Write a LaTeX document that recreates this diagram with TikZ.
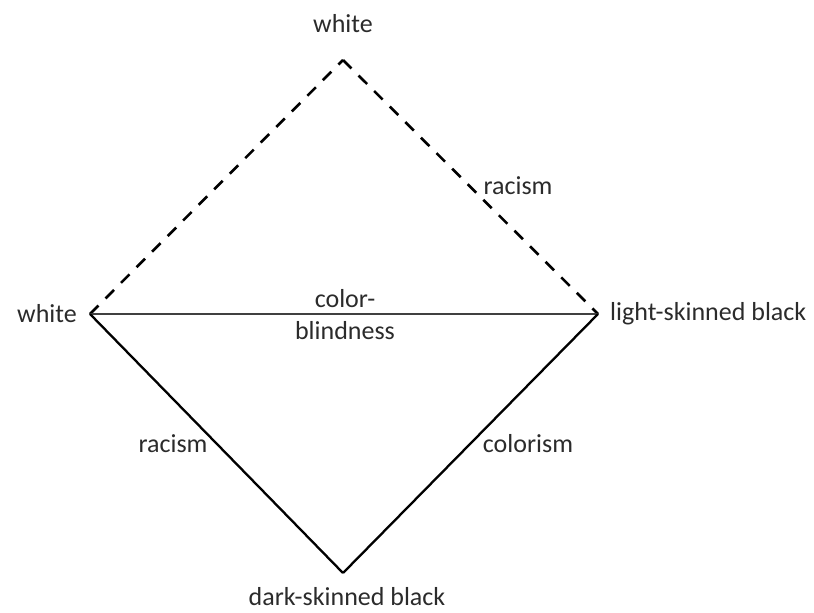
\documentclass[tikz,border=0pt]{standalone}
\usepackage{fontspec}
\setmainfont{Carlito}
\usetikzlibrary{positioning}
\definecolor{txtgray}{HTML}{2B2B2B}
\tikzset{
  vlabel/.style={font=\fontsize{26}{30}\selectfont, text=txtgray, inner sep=1pt},
  elabel/.style={font=\fontsize{26}{30}\selectfont, text=txtgray, inner sep=1pt, align=center},
  solidedge/.style={line width=2.3pt, black},
  dashedge/.style={line width=2.6pt, black, dash pattern=on 12pt off 10pt},
}
\begin{document}
\begin{tikzpicture}[x=1pt, y=-1pt]
  \useasboundingbox (0,0) rectangle (814,613);
  % Vertices
  \coordinate (Top)   at (343,60);
  \coordinate (Left)  at (90,314);
  \coordinate (Right) at (598,314);
  \coordinate (Bot)   at (343,573);
  % Vertex labels
  \node[vlabel, anchor=base] at (343,32) (WTop) {white};
  \node[vlabel, left=12pt of Left] (WLeft) {white};
  \node[vlabel, right=11pt of Right] (LSB) {light-skinned black};
  \node[vlabel, anchor=base, inner sep=0pt] at (347,605) (DSB) {dark-skinned black};
  % Edges
  \draw[dashedge] (Left) -- (Top);
  \draw[dashedge] (Top) -- (Right);
  \draw[solidedge, black!75, line width=2.5pt] (Left) -- (Right);
  \draw[solidedge] (Left) -- (Bot);
  \draw[solidedge] (Bot) -- (Right);
  % Edge labels
  \node[elabel] at (518,186) (RacTop) {racism};
  \node[elabel] at (345,299) (CB1) {color-};
  \node[elabel] at (345,331) (CB2) {blindness};
  \node[elabel] at (173,444) (RacBot) {racism};
  \node[elabel] at (528,444) (Col) {colorism};
\end{tikzpicture}
\end{document}
